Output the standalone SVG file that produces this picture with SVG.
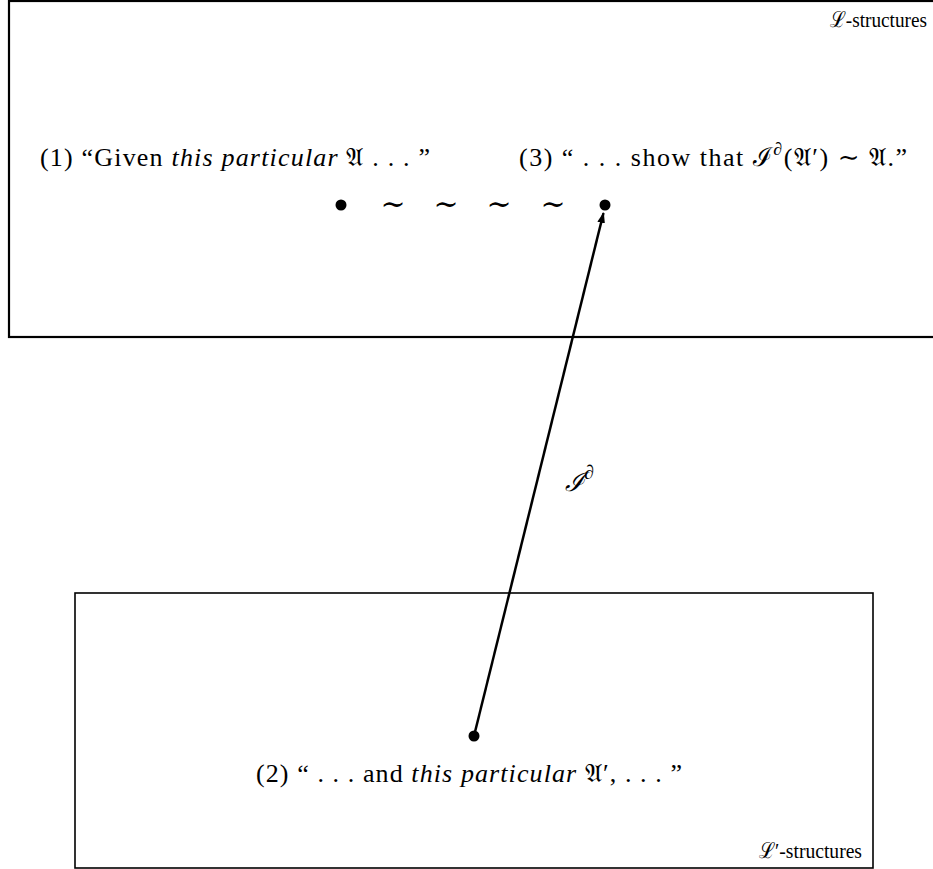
<svg xmlns="http://www.w3.org/2000/svg" width="933" height="869" viewBox="0 0 933 869">
<style>
text{font-family:"Liberation Serif","DejaVu Serif",serif;font-size:26px;fill:#000}
.lbl{font-size:22px}
.it{font-style:italic}
.box{fill:none;stroke:#000}
.dot{fill:#000}
.sup{font-size:18px}
.tl{font-family:"DejaVu Serif",serif;font-size:30px}
</style>
<defs>
<marker id="ah" viewBox="0 0 10 10" refX="9" refY="5" markerWidth="11" markerHeight="11" markerUnits="userSpaceOnUse" orient="auto">
<path d="M0,1.5 L10,5 L0,8.5 Z" fill="#000"/>
</marker>
</defs>
<g id="L-structures">
<rect class="box" x="9" y="1" width="930" height="336" stroke-width="2.2"/>
<text class="lbl" x="830" y="27" textLength="97" lengthAdjust="spacingAndGlyphs">ℒ-structures</text>
</g>
<g id="Lprime-structures">
<rect class="box" x="75" y="593" width="798" height="275" stroke-width="1.6"/>
<text class="lbl" x="759" y="858" textLength="103" lengthAdjust="spacingAndGlyphs">ℒ′-structures</text>
</g>
<g id="node1">
<text x="40" y="166" textLength="390" lengthAdjust="spacing">(1) “Given <tspan class="it">this particular</tspan> 𝔄 . . . ”</text>
<circle class="dot" cx="341" cy="205" r="5.5"/>
</g>
<g id="tildes">
<text class="tl" x="393" y="214" text-anchor="middle">∼</text>
<text class="tl" x="446" y="214" text-anchor="middle">∼</text>
<text class="tl" x="499" y="214" text-anchor="middle">∼</text>
<text class="tl" x="553" y="214" text-anchor="middle">∼</text>
</g>
<g id="node3">
<text x="519" y="166" textLength="388" lengthAdjust="spacing">(3) “ . . . show that ℐ<tspan class="sup" dy="-11">∂</tspan><tspan dy="11">(𝔄′) ∼ 𝔄.”</tspan></text>
<circle class="dot" cx="605" cy="205" r="5.5"/>
</g>
<g id="node2">
<circle class="dot" cx="474" cy="736" r="5.5"/>
<text x="256" y="782" textLength="426" lengthAdjust="spacing">(2) “ . . . and <tspan class="it">this particular</tspan> 𝔄′, . . . ”</text>
</g>
<g id="connectors">
<line x1="474" y1="736" x2="603.5" y2="213" stroke="#000" stroke-width="2.5" marker-end="url(#ah)"/>
<text x="565" y="491" font-size="30" font-style="italic">ℐ<tspan font-size="20" dy="-12">∂</tspan></text>
</g>
</svg>
